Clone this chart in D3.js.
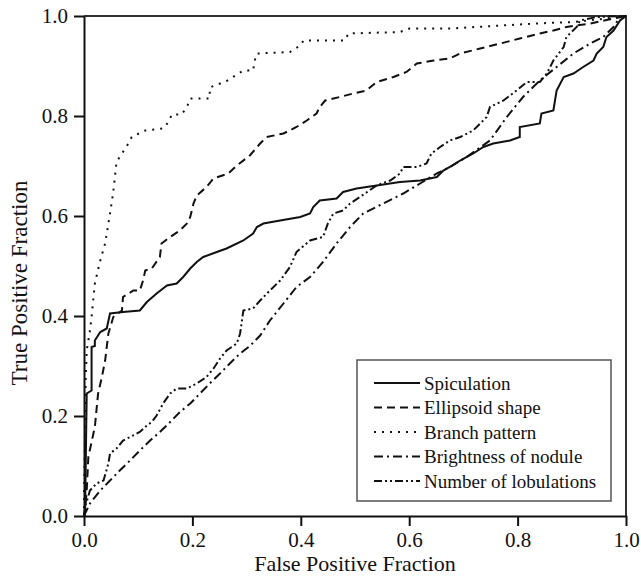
<!DOCTYPE html>
<html>
<head>
<meta charset="utf-8">
<script src="https://cdn.jsdelivr.net/npm/d3@7"></script>
<style>
  body { margin: 0; background: #fff; }
  svg text { font-family: "Liberation Serif", "Times New Roman", serif; fill: #111; }
</style>
</head>
<body>
<div id="chart"></div>
<script>
// ROC points, [false positive fraction, true positive fraction]
const spiculation = [
  [0,0],[0.002,0.011],[0.005,0.245],[0.014,0.251],[0.014,0.338],[0.02,0.34],[0.02,0.351],[0.03,0.368],
  [0.042,0.375],[0.048,0.405],[0.072,0.408],[0.103,0.411],[0.116,0.428],[0.134,0.445],[0.153,0.461],
  [0.171,0.465],[0.183,0.478],[0.196,0.495],[0.208,0.508],[0.22,0.518],[0.245,0.528],[0.263,0.535],
  [0.294,0.551],[0.312,0.565],[0.319,0.578],[0.331,0.585],[0.362,0.591],[0.399,0.598],[0.417,0.605],
  [0.423,0.618],[0.435,0.631],[0.466,0.635],[0.478,0.648],[0.503,0.655],[0.54,0.661],[0.583,0.668],
  [0.62,0.671],[0.651,0.678],[0.663,0.691],[0.675,0.698],[0.694,0.711],[0.718,0.725],[0.737,0.738],
  [0.755,0.745],[0.786,0.751],[0.804,0.758],[0.804,0.778],[0.841,0.785],[0.844,0.805],[0.866,0.811],
  [0.872,0.851],[0.885,0.878],[0.903,0.885],[0.921,0.898],[0.94,0.911],[0.946,0.925],[0.958,0.938],
  [0.964,0.958],[0.977,0.971],[0.989,0.991],[1,1]
];
const ellipsoid = [
  [0,0],[0.002,0.011],[0.005,0.051],[0.008,0.118],[0.02,0.178],[0.026,0.245],[0.033,0.278],[0.039,0.311],
  [0.045,0.365],[0.054,0.398],[0.07,0.411],[0.072,0.438],[0.091,0.451],[0.103,0.451],[0.109,0.471],
  [0.113,0.491],[0.125,0.495],[0.14,0.518],[0.143,0.545],[0.159,0.558],[0.177,0.571],[0.19,0.585],
  [0.196,0.598],[0.202,0.625],[0.208,0.641],[0.226,0.658],[0.239,0.675],[0.266,0.685],[0.282,0.701],
  [0.306,0.721],[0.325,0.745],[0.337,0.758],[0.368,0.765],[0.392,0.778],[0.411,0.791],[0.429,0.805],
  [0.435,0.818],[0.445,0.831],[0.472,0.838],[0.497,0.845],[0.521,0.851],[0.54,0.868],[0.571,0.878],
  [0.595,0.888],[0.614,0.905],[0.645,0.911],[0.675,0.915],[0.694,0.925],[0.731,0.935],[0.768,0.945],
  [0.804,0.955],[0.841,0.965],[0.866,0.971],[0.89,0.978],[0.934,0.985],[0.977,0.995],[1,1]
];
const branch = [
  [0,0],[0,0.05],[0.002,0.15],[0.003,0.27],[0.005,0.331],[0.011,0.371],[0.014,0.398],[0.02,0.465],
  [0.03,0.511],[0.039,0.545],[0.048,0.605],[0.054,0.648],[0.06,0.708],[0.07,0.725],[0.082,0.745],
  [0.088,0.758],[0.113,0.771],[0.146,0.775],[0.156,0.788],[0.162,0.803],[0.18,0.803],[0.19,0.818],
  [0.196,0.835],[0.232,0.835],[0.232,0.857],[0.263,0.87],[0.294,0.891],[0.312,0.891],[0.315,0.911],
  [0.319,0.925],[0.38,0.928],[0.399,0.941],[0.405,0.951],[0.481,0.951],[0.488,0.965],[0.583,0.968],
  [0.601,0.975],[0.675,0.975],[0.835,0.985],[0.903,0.988],[0.989,0.998],[1,1]
];
const brightness = [
  [0,0],[0.002,0.005],[0.011,0.025],[0.03,0.051],[0.048,0.071],[0.066,0.091],[0.085,0.111],[0.103,0.131],
  [0.122,0.151],[0.14,0.168],[0.159,0.188],[0.177,0.208],[0.196,0.225],[0.214,0.245],[0.232,0.265],
  [0.251,0.285],[0.269,0.305],[0.288,0.325],[0.306,0.34],[0.325,0.361],[0.343,0.391],[0.368,0.425],
  [0.392,0.458],[0.417,0.478],[0.441,0.508],[0.466,0.545],[0.491,0.578],[0.515,0.605],[0.552,0.625],
  [0.589,0.645],[0.62,0.665],[0.651,0.685],[0.675,0.698],[0.706,0.718],[0.749,0.751],[0.78,0.798],
  [0.81,0.838],[0.841,0.871],[0.872,0.898],[0.903,0.925],[0.934,0.945],[0.958,0.958],[0.977,0.978],
  [0.989,0.998],[1,1]
];
const lobulations = [
  [0,0],[0.002,0.018],[0.011,0.051],[0.023,0.065],[0.036,0.071],[0.045,0.105],[0.048,0.125],[0.06,0.135],
  [0.072,0.151],[0.085,0.158],[0.103,0.168],[0.116,0.181],[0.125,0.188],[0.134,0.201],[0.146,0.225],
  [0.159,0.245],[0.171,0.255],[0.19,0.255],[0.208,0.265],[0.226,0.278],[0.239,0.295],[0.251,0.315],
  [0.263,0.331],[0.282,0.345],[0.288,0.365],[0.294,0.411],[0.312,0.415],[0.325,0.431],[0.343,0.451],
  [0.362,0.471],[0.38,0.498],[0.392,0.528],[0.417,0.551],[0.441,0.558],[0.45,0.585],[0.46,0.605],
  [0.478,0.611],[0.491,0.625],[0.509,0.638],[0.54,0.661],[0.565,0.671],[0.583,0.685],[0.589,0.698],
  [0.614,0.698],[0.632,0.705],[0.641,0.725],[0.657,0.738],[0.675,0.751],[0.694,0.758],[0.718,0.771],
  [0.743,0.798],[0.749,0.818],[0.774,0.831],[0.798,0.851],[0.817,0.868],[0.841,0.868],[0.854,0.885],
  [0.866,0.911],[0.885,0.938],[0.89,0.958],[0.909,0.978],[0.915,0.991],[0.946,0.998],[1,1]
];

const seriesNames = ["Spiculation", "Ellipsoid shape", "Branch pattern", "Brightness of nodule", "Number of lobulations"];
const seriesData = [spiculation, ellipsoid, branch, brightness, lobulations];
const dashes = [null, "8,5", "2,6", "9,4,2,4", "8,3,2,3,2,3"];
const ticks = [0, 0.2, 0.4, 0.6, 0.8, 1.0];

const width = 641, height = 579;
const margin = { left: 84, right: 15, top: 16, bottom: 63 };

const svg = d3.select("#chart").append("svg")
  .attr("width", width).attr("height", height);

const x = d3.scaleLinear().domain([0, 1]).range([margin.left, width - margin.right]);
const y = d3.scaleLinear().domain([0, 1]).range([height - margin.bottom, margin.top]);

// frame (top and right)
svg.append("path")
  .attr("d", `M${x(0)},${y(1)}H${x(1)}V${y(0)}`)
  .attr("fill", "none").attr("stroke", "#333").attr("stroke-width", 2);

const xAxis = svg.append("g")
  .attr("transform", `translate(0,${y(0)})`)
  .call(d3.axisBottom(x).tickValues(ticks).tickFormat(d3.format(".1f")).tickSize(10).tickPadding(6).tickSizeOuter(0));
const yAxis = svg.append("g")
  .attr("transform", `translate(${x(0)},0)`)
  .call(d3.axisLeft(y).tickValues(ticks).tickFormat(d3.format(".1f")).tickSize(10).tickPadding(6).tickSizeOuter(0));

[xAxis, yAxis].forEach(g => {
  g.select(".domain").attr("stroke", "#111").attr("stroke-width", 2);
  g.selectAll(".tick line").attr("stroke", "#111").attr("stroke-width", 2);
  g.selectAll(".tick text").style("font-size", "21px").attr("fill", "#111");
});

svg.append("text")
  .attr("x", (x(0) + x(1)) / 2).attr("y", 571)
  .attr("text-anchor", "middle").style("font-size", "22px")
  .text("False Positive Fraction");
svg.append("text")
  .attr("transform", `translate(27,283) rotate(-90)`)
  .attr("text-anchor", "middle").style("font-size", "23px")
  .text("True Positive Fraction");

const line = d3.line().x(d => x(d[0])).y(d => y(d[1]));

seriesData.forEach((data, i) => {
  svg.append("path")
    .datum(data)
    .attr("d", line)
    .attr("fill", "none")
    .attr("stroke", "#111")
    .attr("stroke-width", 2)
    .attr("stroke-dasharray", dashes[i]);
});

// legend
const legend = svg.append("g");
legend.append("rect")
  .attr("x", 357).attr("y", 360).attr("width", 254).attr("height", 141)
  .attr("fill", "#fff").attr("stroke", "#555").attr("stroke-width", 1.5);

seriesNames.forEach((name, i) => {
  const ly = 383 + i * 24.5;
  legend.append("line")
    .attr("x1", 374).attr("x2", 420).attr("y1", ly).attr("y2", ly)
    .attr("stroke", "#111").attr("stroke-width", 1.8)
    .attr("stroke-dasharray", dashes[i]);
  legend.append("text")
    .attr("x", 424).attr("y", ly + 6.5)
    .style("font-size", "19px")
    .text(name);
});
</script>
</body>
</html>
